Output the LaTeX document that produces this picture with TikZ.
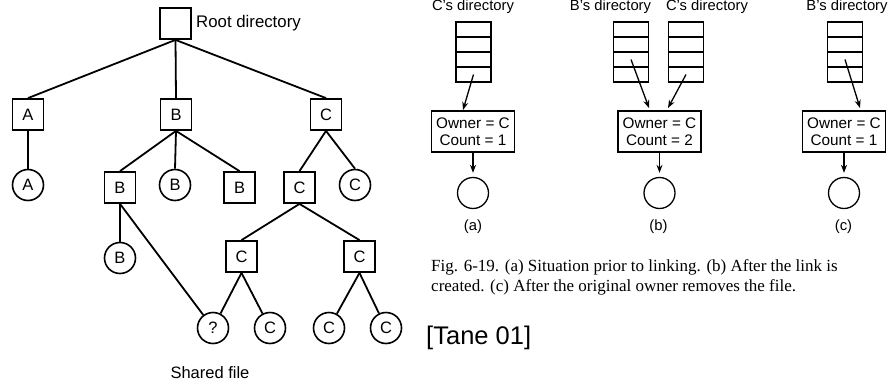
\documentclass[tikz,border=0pt]{standalone}
\usepackage{fontspec}
\setmainfont{Liberation Sans}
\newfontfamily\capfont{Liberation Serif}
\usetikzlibrary{arrows.meta}
\begin{document}
\begin{tikzpicture}[x=1pt,y=-1pt,
  treebox/.style={draw,line width=1.8pt,minimum size=31pt,inner sep=0pt,font=\fontsize{16.5}{17}\selectfont},
  treefile/.style={draw,circle,line width=1.6pt,minimum size=31pt,inner sep=0pt,font=\fontsize{16.5}{17}\selectfont},
  treeedge/.style={line width=1.8pt},
  cell/.style={draw,line width=1.3pt,minimum width=35pt,minimum height=15pt,inner sep=0pt},
  inode/.style={draw,line width=1.3pt,minimum width=83pt,minimum height=41pt,inner sep=0pt,align=center,font=\fontsize{15.3}{17}\selectfont},
  datafile/.style={draw,circle,line width=1.3pt,minimum size=31pt,inner sep=0pt},
  dirlabel/.style={anchor=base,inner sep=0pt,font=\fontsize{14.8}{16}\selectfont},
  sublabel/.style={inner sep=0pt,font=\fontsize{14.8}{16}\selectfont},
  ptr/.style={line width=1.3pt,-{Stealth[length=8pt,width=6pt]}},
]
\useasboundingbox (0,0) rectangle (890,385);

% ---------- directory tree ----------
\node[treebox] (root) at (175.5,23.5) {};
\node[anchor=west,inner sep=0pt,font=\fontsize{16.8}{18}\selectfont] (rootlbl) at (196,23.5) {Root directory};

\node[treebox] (A) at (28,114.5) {A};
\node[treebox] (B) at (176,114.5) {B};
\node[treebox] (C) at (326,114.5) {C};

\node[treefile] (fA) at (28,185) {A};

\node[treebox]  (B1)  at (120,187.5) {B};
\node[treefile] (fB1) at (175,185) {B};
\node[treebox]  (B2)  at (239.5,187.5) {B};
\node[treebox]  (C1)  at (299.5,187.5) {C};
\node[treefile] (fC1) at (355,185) {C};

\node[treefile] (fB2) at (120,258) {B};
\node[treebox]  (C2)  at (241.5,256.5) {C};
\node[treebox]  (C3)  at (359.5,256.5) {C};

\node[treefile] (q)   at (213,328) {?};
\node[treefile] (fC2) at (270,328) {C};
\node[treefile] (fC3) at (329,328) {C};
\node[treefile] (fC4) at (386,328) {C};

\node[inner sep=0pt,font=\fontsize{16.5}{18}\selectfont] (shared) at (210,373) {Shared file};

\draw[treeedge] (root.south) -- (A.north);
\draw[treeedge] (root.south) -- (B.north);
\draw[treeedge] (root.south) -- (C.north);
\draw[treeedge] (A.south) -- (fA.north);
\draw[treeedge] (B.south) -- (B1.north);
\draw[treeedge] (B.south) -- (fB1.north);
\draw[treeedge] (B.south) -- (B2.north);
\draw[treeedge] (C.south) -- (C1.north);
\draw[treeedge] (C.south) -- (fC1.north);
\draw[treeedge] (B1.south) -- (fB2.north);
\draw[treeedge] (B1.south) -- (q);
\draw[treeedge] (C1.south) -- (C2.north);
\draw[treeedge] (C1.south) -- (C3.north);
\draw[treeedge] (C2.south) -- (q);
\draw[treeedge] (C2.south) -- (fC2);
\draw[treeedge] (C3.south) -- (fC3);
\draw[treeedge] (C3.south) -- (fC4);

% ---------- i-node diagrams ----------
% directory stacks (four entries each)
\foreach \s/\x in {a/473.5, bb/631, bc/686, c/845} {
  \foreach \r/\y in {1/29.5, 2/44.5, 3/59.5, 4/74.5} {
    \node[cell] (\s\r) at (\x,\y) {};
  }
}

\node[dirlabel] (la)  at (473,11)   {C's directory};
\node[dirlabel] (lbb) at (610.5,11) {B's directory};
\node[dirlabel] (lbc) at (707,11)   {C's directory};
\node[dirlabel] (lc)  at (847,11)   {B's directory};

\node[inode] (ia) at (473,131.5)   {Owner = C\\Count = 1};
\node[inode] (ib) at (659.5,131.5) {Owner = C\\Count = 2};
\node[inode] (ic) at (844,131.5)   {Owner = C\\Count = 1};

\node[datafile] (da) at (473,193)   {};
\node[datafile] (db) at (659.5,193) {};
\node[datafile] (dc) at (844,193)   {};

\node[sublabel] (sa) at (473,227)   {(a)};
\node[sublabel] (sb) at (658.5,227) {(b)};
\node[sublabel] (sc) at (843.5,227) {(c)};

\coordinate (ta)  at (463,110);
\coordinate (tbb) at (649,108);
\coordinate (tbc) at (668,108);
\coordinate (tc)  at (860,108);

\draw[ptr] (a4.center)  -- (ta);
\draw[ptr] (bb3.center) -- (tbb);
\draw[ptr] (bc4.center) -- (tbc);
\draw[ptr] (c3.center)  -- (tc);

\draw[ptr,shorten >=4pt] (ia.south) -- (da.north);
\draw[ptr,shorten >=4pt] (ib.south) -- (db.north);
\draw[ptr,shorten >=4pt] (ic.south) -- (dc.north);

% ---------- caption ----------
\node[anchor=base west,inner sep=0pt,align=left,font=\capfont\fontsize{17}{19.5}\selectfont] (cap) at (431,291)
  {Fig. 6-19. (a) Situation prior to linking. (b) After the link is\\
   created. (c) After the original owner removes the file.};

\node[anchor=west,inner sep=0pt,font=\fontsize{25.5}{28}\selectfont] (src) at (426,338) {[Tane 01]};
\end{tikzpicture}
\end{document}
